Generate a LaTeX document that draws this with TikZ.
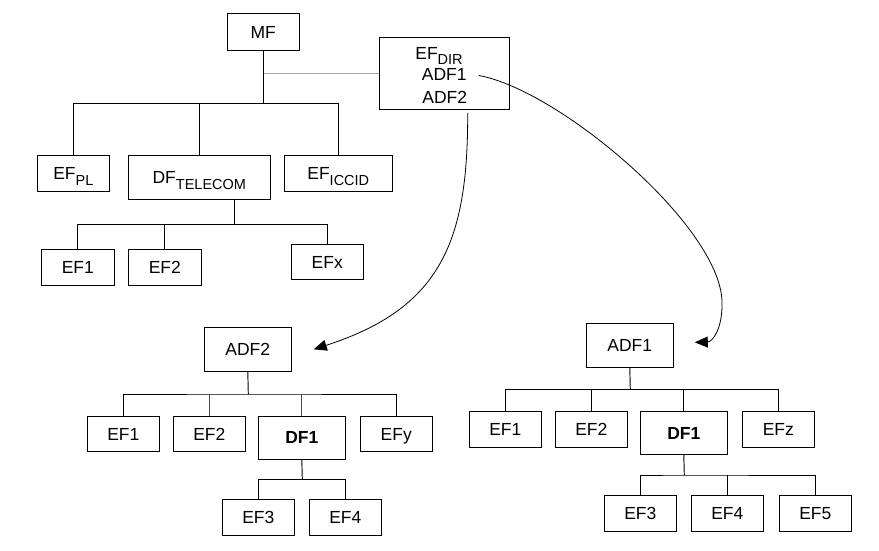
\documentclass[tikz,border=0pt]{standalone}
\usepackage{fontspec}
\setmainfont{Liberation Sans}
\usetikzlibrary{arrows.meta}
\newcommand{\mysub}[1]{\raisebox{-5.5pt}{\fontsize{14.5}{14.5}\selectfont #1}}
\begin{document}
\begin{tikzpicture}[x=1pt,y=-1pt,
  box/.style={draw, line width=0.95pt, inner sep=0pt, minimum width=72pt, minimum height=36pt,
    text height=12.5pt, text depth=0pt, font=\fontsize{17.5}{20}\selectfont},
  txt/.style={inner sep=0pt, text height=12.5pt, text depth=0pt, font=\fontsize{17.5}{20}\selectfont},
  tree/.style={line width=0.95pt},
  soft/.style={line width=0.95pt, gray!70},
  arr/.style={line width=0.8pt, -{Triangle[length=13pt,width=11pt]}}]
\useasboundingbox (0,0) rectangle (879,551);

% top tree
\node[box, minimum height=37pt] (MF) at (263.3,31.8) {MF};
\node[box, minimum width=130pt, minimum height=71.7pt] (DIR) at (444.3,73.2) {};
\node[txt] (dirEF) at (439,53) {EF\mysub{DIR}};
\node[txt] (dirA1) at (444.2,74.5) {ADF1};
\node[txt] (dirA2) at (444.7,97.3) {ADF2};
\node[box] (EFPL) at (73.3,173.3) {EF\mysub{PL}\hspace{9pt}};
\node[box, minimum width=142pt, minimum height=44pt] (DFT) at (199.3,177.3) {DF\mysub{TELECOM}\hspace{20pt}};
\node[box, minimum width=108pt] (ICCID) at (338.3,173.3) {EF\mysub{ICCID}\hspace{14pt}};
\node[box, minimum width=73pt] (TEF1) at (77.8,267.3) {EF1};
\node[box, minimum width=73pt] (TEF2) at (164.8,267.3) {EF2};
\node[box, minimum height=35pt] (EFx) at (327.3,261.8) {EFx};

\coordinate (b1) at (263.3,103.3);
\coordinate (b2) at (234.3,224.3);
\draw[soft] (MF.south |- DIR.west) -- (DIR.west);
\draw[tree] (MF.south) -- (b1);
\draw[tree] (EFPL.north) |- (b1) -| (ICCID.north);
\draw[tree] (DFT.north) -- (DFT.north |- b1);
\draw[tree] (b2 |- DFT.south) -- (b2);
\draw[tree] (TEF1.north) |- (b2) -| (EFx.north);
\draw[tree] (TEF2.north) -- (TEF2.north |- b2);

% ADF2 tree
\node[box, minimum width=87pt, minimum height=44pt] (ADF2) at (247.8,349.3) {ADF2};
\node[box, minimum height=35pt] (BEF1) at (123.3,433.8) {EF1};
\node[box, minimum height=35pt] (BEF2) at (209.3,433.8) {EF2};
\node[box, minimum width=87pt, minimum height=42.7pt, font=\fontsize{17.5}{20}\selectfont\bfseries] (BDF1) at (301.8,437.7) {DF1};
\node[box, minimum height=35pt] (EFy) at (396.3,433.8) {EFy};
\node[box] (BEF3) at (258.3,517.3) {EF3};
\node[box] (BEF4) at (345.3,517.3) {EF4};

\coordinate (b3) at (248.3,394);
\coordinate (b4) at (302.3,479.3);
\draw[tree] (ADF2.south) -- (b3);
\draw[tree] (BEF1.north) |- (b3) -| (EFy.north);
\draw[soft, gray!60!black] (BEF2.north) -- (BEF2.north |- b3);
\draw[soft, gray!60!black] (BDF1.north) -- (BDF1.north |- b3);
\draw[tree] (BDF1.south) -- (b4);
\draw[tree] (BEF3.north) |- (b4) -| (BEF4.north);

% ADF1 tree
\node[box, minimum width=87pt, minimum height=44pt] (ADF1) at (629.8,345.3) {ADF1};
\node[box, minimum height=35.7pt] (CEF1) at (505.3,429.2) {EF1};
\node[box, minimum height=35.7pt] (CEF2) at (591.3,429.2) {EF2};
\node[box, minimum width=87pt, minimum height=43pt, font=\fontsize{17.5}{20}\selectfont\bfseries] (CDF1) at (683.8,432.8) {DF1};
\node[box, minimum height=35.7pt] (EFz) at (778.3,429.2) {EFz};
\node[box, minimum height=35.7pt] (CEF3) at (640.3,513.2) {EF3};
\node[box, minimum height=35.7pt] (CEF4) at (727.3,513.2) {EF4};
\node[box, minimum height=35.7pt] (CEF5) at (815.3,513.2) {EF5};

\coordinate (b5) at (630.3,389.3);
\coordinate (b6) at (684.3,475);
\draw[tree] (ADF1.south) -- (b5);
\draw[tree] (CEF1.north) |- (b5) -| (EFz.north);
\draw[tree] (CEF2.north) -- (CEF2.north |- b5);
\draw[tree] (CDF1.north) -- (CDF1.north |- b5);
\draw[tree] (CDF1.south) -- (b6);
\draw[tree] (CEF3.north) |- (b6) -| (CEF5.north);
\draw[tree] (CEF4.north) -- (CEF4.north |- b6);

% curved arrows
\draw[arr] ([xshift=12pt,yshift=-1pt]dirA1.east) .. controls (560,90) and (725,230) .. (722,305)
   .. controls (722,330) and (712,342) .. ([xshift=21pt,yshift=3pt]ADF1.east);
\draw[arr] ([xshift=23.4pt,yshift=-3.3pt]DIR.south) .. controls (468,240) and (442,308) .. ([xshift=22pt]ADF2.east);
\end{tikzpicture}
\end{document}
